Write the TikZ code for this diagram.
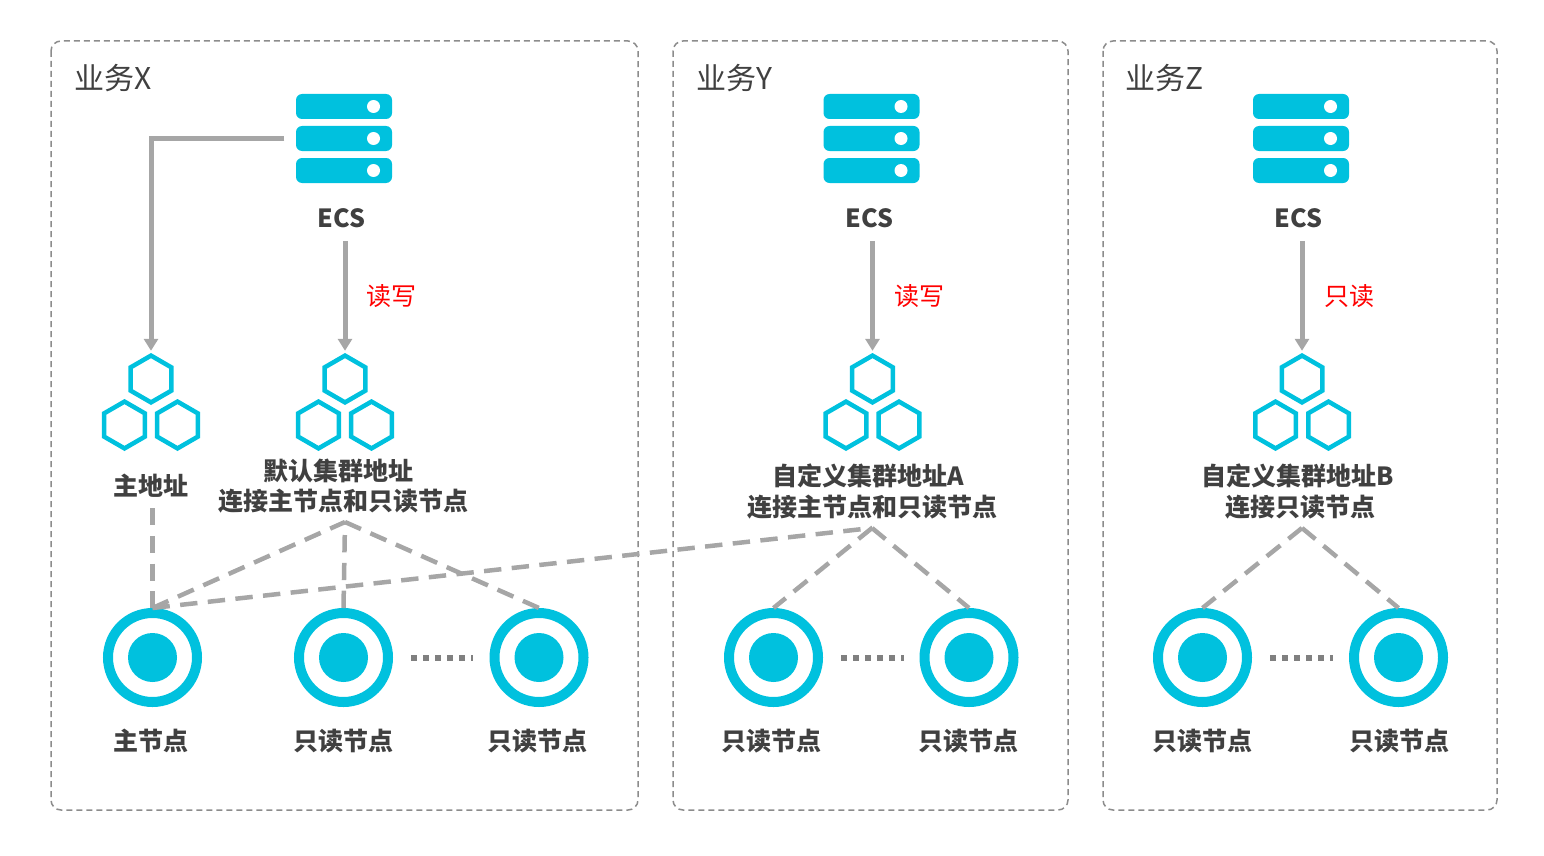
\documentclass[tikz,border=0pt]{standalone}
\usepackage{fontspec}
\setmainfont{Noto Sans CJK SC}
\usetikzlibrary{arrows.meta}
\definecolor{ecsblue}{HTML}{00C1DE}
\definecolor{linegray}{HTML}{A6A6A6}
\definecolor{boxgray}{HTML}{8C8C8C}
\definecolor{textgray}{HTML}{404040}
\tikzset{
  groupbox/.style={draw=boxgray,line width=1.5pt,dash pattern=on 6pt off 4pt,rounded corners=10pt},
  grouptitle/.style={anchor=west,inner sep=0pt,text=textgray,font=\fontsize{30pt}{32pt}\selectfont},
  iconbox/.style={inner sep=0pt,minimum width=97pt,minimum height=89pt},
  hubbox/.style={inner sep=0pt,minimum width=98pt,minimum height=102pt},
  ringnode/.style={circle,draw=ecsblue,line width=10pt,inner sep=0pt,minimum size=89pt,
    path picture={\fill[ecsblue] (path picture bounding box.center) circle (24.5);}},
  namelabel/.style={inner sep=0pt,align=center,text=textgray,font=\fontsize{25pt}{30.5pt}\selectfont\bfseries},
  modelabel/.style={inner sep=0pt,text=red,font=\fontsize{25pt}{30pt}\selectfont},
  solidarrow/.style={draw=linegray,line width=5pt,-{Triangle[length=12pt,width=14pt]}},
  dashlink/.style={draw=linegray,line width=4.5pt,dash pattern=on 17.4pt off 10.4pt},
  dotlink/.style={draw=gray,line width=6pt,dash pattern=on 6pt off 6pt},
  ecsicon/.pic={
    \foreach \ty in {-32,0,32} {
      \fill[ecsblue,rounded corners=6pt] (-48,\ty-12.5) rectangle (48,\ty+12.5);
      \fill[white] (29.5,\ty) circle (6.5);
    }
  },
  hubicon/.pic={
    \foreach \hx/\hy in {0/-23,-26.5/23,26.5/23} {
      \draw[ecsblue,line width=4.5pt,miter limit=4] (\hx,\hy)+(90:23.4) -- +(150:23.4) -- +(210:23.4)
        -- +(270:23.4) -- +(330:23.4) -- +(30:23.4) -- cycle;
    }
  },
}
\begin{document}
\begin{tikzpicture}[x=1pt,y=-1pt]
  \useasboundingbox (0,0) rectangle (1544,856);
  % group frames
  \draw[groupbox] (51,41) rectangle (638,810);
  \draw[groupbox] (673,41) rectangle (1068,810);
  \draw[groupbox] (1103,41) rectangle (1497,810);
  \node[grouptitle] (titlex) at (74.5,78) {业务X};
  \node[grouptitle] (titley) at (696.5,78) {业务Y};
  \node[grouptitle] (titlez) at (1125.5,78) {业务Z};
  % servers
  \foreach \nm/\cx in {x/344,y/871.5,z/1301} {
    \node[iconbox] (ecs\nm) at (\cx,138.5) {};
    \pic at (ecs\nm) {ecsicon};
  }
  \node[namelabel] (ecslabelx) at (341.5,218) {ECS};
  \node[namelabel] (ecslabely) at (869.5,218) {ECS};
  \node[namelabel] (ecslabelz) at (1298.5,218) {ECS};
  % address icons
  \foreach \nm/\cx in {m/151,d/345,a/872.5,b/1302} {
    \node[hubbox] (hub\nm) at (\cx,402) {};
    \pic at (hub\nm) {hubicon};
  }
  \node[namelabel] (hublabelm) at (151,486) {主地址};
  \node[namelabel] (hublabeld) at (343,486) {默认集群地址\hspace*{10pt}\\连接主节点和只读节点};
  \node[namelabel] (hublabela) at (872.5,491.5) {自定义集群地址A\hspace*{8pt}\\连接主节点和只读节点};
  \node[namelabel] (hublabelb) at (1298,491.5) {自定义集群地址B\\\hspace*{4pt}连接只读节点};
  % read and write arrows
  \draw[solidarrow] (ecsx.west) ++(-11,0) -| (hubm.north);
  \draw[solidarrow] (hubd.north |- ecslabelx.south) ++(0,13) -- (hubd.north);
  \draw[solidarrow] (huba.north |- ecslabely.south) ++(0,13) -- (huba.north);
  \draw[solidarrow] (hubb.north |- ecslabelz.south) ++(0,13) -- (hubb.north);
  \node[modelabel] (modex) at (391.5,296.5) {读写};
  \node[modelabel] (modey) at (919.5,296.5) {读写};
  \node[modelabel] (modez) at (1349,296.5) {只读};
  % database nodes
  \foreach \nm/\cx in {m/152.5,p/343.5,q/539,r/773.5,s/969,t/1202.5,u/1398.5} {
    \node[ringnode] (db\nm) at (\cx,657.5) {};
  }
  \node[namelabel] (dblabelm) at (151,741) {主节点};
  \node[namelabel] (dblabelp) at (343,741) {只读节点};
  \node[namelabel] (dblabelq) at (537,741) {只读节点};
  \node[namelabel] (dblabelr) at (771,741) {只读节点};
  \node[namelabel] (dblabels) at (968,741) {只读节点};
  \node[namelabel] (dblabelt) at (1202,741) {只读节点};
  \node[namelabel] (dblabelu) at (1399,741) {只读节点};
  % dashed links
  \coordinate (apexm) at (152.5,508);
  \coordinate (apexd) at (345,522);
  \coordinate (apexa) at (872,528);
  \coordinate (apexb) at (1302,528);
  \draw[dashlink] (apexm) -- (dbm.north);
  \draw[dashlink] (dbm.north) -- (apexd);
  \draw[dashlink] (dbp.north) -- (apexd);
  \draw[dashlink] (apexd) -- (dbq.north);
  \draw[dashlink] (dbm.north) -- (apexa);
  \draw[dashlink] (apexa) -- (dbr.north);
  \draw[dashlink] (apexa) -- (dbs.north);
  \draw[dashlink] (apexb) -- (dbt.north);
  \draw[dashlink] (apexb) -- (dbu.north);
  % dots between nodes
  \draw[dotlink,shorten <=18pt,shorten >=16.5pt] (dbp.east) -- (dbq.west);
  \draw[dotlink,shorten <=18pt,shorten >=16pt] (dbr.east) -- (dbs.west);
  \draw[dotlink,shorten <=18pt,shorten >=16pt] (dbt.east) -- (dbu.west);
\end{tikzpicture}
\end{document}
